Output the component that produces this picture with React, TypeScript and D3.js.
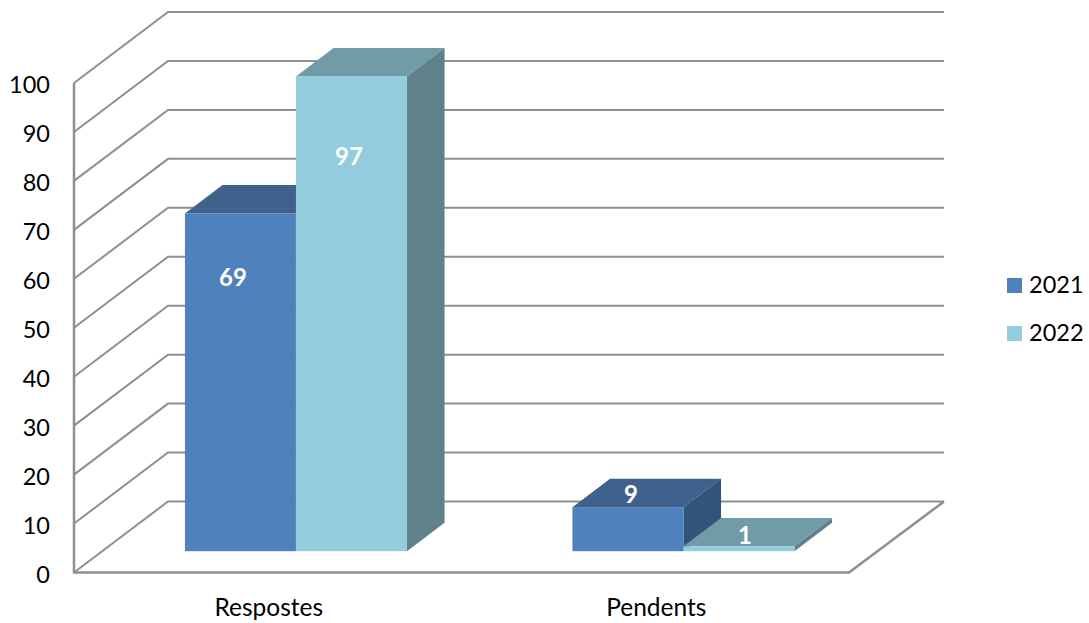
import React from "react";
import * as d3 from "d3";

const categories = ["Respostes", "Pendents"];
const seriesNames = ["2021", "2022"];
const values2021 = [69, 9];
const values2022 = [97, 1];
const yTicks = d3.range(0, 101, 10);

const frontColors = ["#4f81bd", "#93cddd"];
const topColors = ["#3f618c", "#719ba7"];
const sideColors = ["#335479", "#5e818a"];
const gridColor = "#8f8f8f";
const fontFamily = "Lato, Carlito, sans-serif";

// Oblique projection of the plot box: the back wall sits up and to the right of the front plane.
const plot = { left: 74, right: 849, floor: 572.5, top: 83 };
const wall = { dx: 94, dy: -71 };
const gridOverhang = 1; // wall lines run slightly past the floor's back corner
const barPlane = 0.3; // where the bars' front faces sit within the box depth
const barDepth = 0.4; // share of the box depth the bars occupy
const barWidth = 111;

// Label nudges relative to each bar's centre and top edge, per series then category.
const labelNudges = [
  [{ dx: -7.5, dy: 66 }, { dx: 3, dy: -10 }],
  [{ dx: -2.5, dy: 82 }, { dx: 6, dy: -8 }],
];

const y = d3.scaleLinear().domain([0, 100]).range([plot.floor, plot.top]);
const x = d3.scaleBand<string>().domain(categories).range([plot.left, plot.right]);

function poly(points: [number, number][]) {
  return d3.line()(points) + "Z";
}

function Bar({ cat, series, value }: { cat: number; series: number; value: number }) {
  const center = x(categories[cat])! + x.bandwidth() / 2 + wall.dx * barPlane;
  const x0 = center - barWidth + series * barWidth;
  const x1 = x0 + barWidth;
  const shift = wall.dy * barPlane;
  const y0 = y(0) + shift;
  const y1 = y(value) + shift;
  const ox = wall.dx * barDepth;
  const oy = wall.dy * barDepth;
  return (
    <g>
      <path d={poly([[x0, y1], [x1, y1], [x1 + ox, y1 + oy], [x0 + ox, y1 + oy]])} fill={topColors[series]} />
      <path d={poly([[x1, y1], [x1 + ox, y1 + oy], [x1 + ox, y0 + oy], [x1, y0]])} fill={sideColors[series]} />
      <rect x={x0} y={y1} width={barWidth} height={y0 - y1} fill={frontColors[series]} />
    </g>
  );
}

export default function App() {
  const all = [values2021, values2022];
  return (
    <svg
      width={1089}
      height={623}
      style={{ position: "absolute", left: 0, top: 0, background: "#fff" }}
      fontFamily={fontFamily}
    >
      {yTicks.map((t) => (
        <path
          key={t}
          d={d3.line()([
            [plot.left, y(t)],
            [plot.left + wall.dx, y(t) + wall.dy],
            [plot.right + wall.dx + gridOverhang, y(t) + wall.dy],
          ])!}
          fill="none"
          stroke={gridColor}
          strokeWidth={2}
        />
      ))}
      <path
        d={d3.line()([
          [plot.left, plot.top],
          [plot.left, plot.floor],
          [plot.right, plot.floor],
          [plot.right + wall.dx + gridOverhang, plot.floor + wall.dy],
        ])!}
        fill="none"
        stroke={gridColor}
        strokeWidth={2.5}
      />

      {yTicks.map((t) => (
        <text key={t} x={50} y={y(t) + 4.5} textAnchor="end" dominantBaseline="middle" fontSize={23.5} fill="#000">
          {t}
        </text>
      ))}

      {categories.map((c, i) => (
        <g key={c}>
          {all.map((vals, s) => (
            <Bar key={s} cat={i} series={s} value={vals[i]} />
          ))}
        </g>
      ))}

      {categories.map((c, i) =>
        all.map((vals, s) => {
          const center = x(c)! + x.bandwidth() / 2 + wall.dx * barPlane;
          const n = labelNudges[s][i];
          const lx = center - barWidth / 2 + s * barWidth + n.dx;
          const ly = y(vals[i]) + wall.dy * barPlane + n.dy;
          return (
            <text key={`${c}-${s}`} x={lx} y={ly} textAnchor="middle" dominantBaseline="middle"
              fontSize={24} fontWeight={700} fill="#fff">
              {vals[i]}
            </text>
          );
        })
      )}

      {categories.map((c) => (
        <text key={c} x={x(c)! + x.bandwidth() / 2 + 1} y={610} textAnchor="middle" dominantBaseline="middle"
          fontSize={24.5} fill="#000">
          {c}
        </text>
      ))}

      {seriesNames.map((name, i) => (
        <g key={name} transform={`translate(1007,${278 + i * 48})`}>
          <rect width={15} height={15} fill={frontColors[i]} />
          <text x={22} y={9.5} dominantBaseline="middle" fontSize={23.5} fill="#000">
            {name}
          </text>
        </g>
      ))}
    </svg>
  );
}
